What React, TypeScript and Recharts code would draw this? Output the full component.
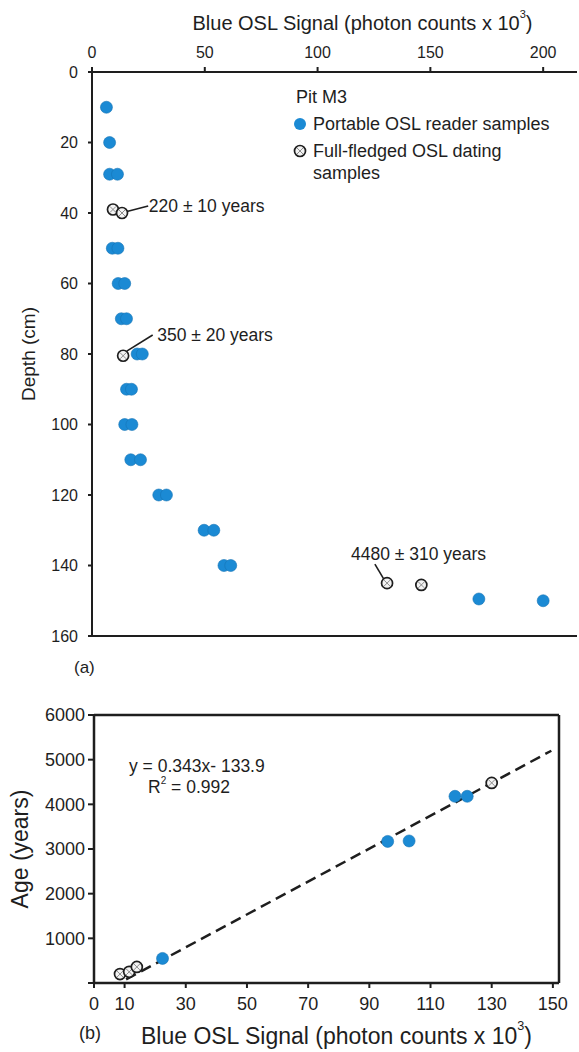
import { ScatterChart, Scatter, XAxis, YAxis, ReferenceLine, ReferenceDot, Legend, Label } from 'recharts';

const BLUE = '#1b8ad4';
const INK = '#1e1e1e';
const FONT = '"Liberation Sans", Arial, Helvetica, sans-serif';

// (a) Pit M3 depth profile, signal in photon counts x 10^3
const readerSignal = [6.4, 7.8, 7.8, 11.3, 9.0, 11.5, 11.6, 14.5, 13.0, 15.3, 20.0, 22.3, 15.3, 17.5, 14.5, 17.7, 17.2, 21.5, 29.6, 33.0, 49.7, 54.0, 58.5, 61.5, 171.5, 200];
const readerDepth = [10, 20, 29, 29, 50, 50, 60, 60, 70, 70, 80, 80, 90, 90, 100, 100, 110, 110, 120, 120, 130, 130, 140, 140, 149.5, 150];
const datingSignal = [9.3, 13.3, 13.8, 130.8, 146];
const datingDepth = [39, 40, 80.5, 145, 145.5];

const signalTicksTop = [0, 50, 100, 150, 200];
const depthTicks = [0, 20, 40, 60, 80, 100, 120, 140, 160];

// dated samples with their leader lines (data units)
const ageNotes = [
  { text: '220 \u00b1 10 years', from: { x: 15.5, y: 39.6 }, to: { x: 24.9, y: 38 }, at: { x: 25.2, y: 38 } },
  { text: '350 \u00b1 20 years', from: { x: 15.4, y: 79.2 }, to: { x: 26.9, y: 74.6 }, at: { x: 28.9, y: 74.6 } },
  { text: '4480 \u00b1 310 years', from: { x: 129.3, y: 143.8 }, to: { x: 125.4, y: 139.6 }, at: { x: 114.8, y: 136.7 } },
];

// (b) age vs. signal
const readerAgeSignal = [22.4, 96, 103, 118, 122];
const readerAge = [550, 3170, 3180, 4180, 4180];
const datingAgeSignal = [8.5, 11.5, 14, 130];
const datingAge = [200, 250, 360, 4480];
const fitSignal = [10.5, 149.5];
const fitAge = [80, 5200];

const signalTicksBottom = [0, 10, 30, 50, 70, 90, 110, 130, 150];
const ageTicks = [0, 1000, 2000, 3000, 4000, 5000, 6000];

const depthReader = readerSignal.map((s, i) => ({ signal: s, depth: readerDepth[i] }));
const depthDating = datingSignal.map((s, i) => ({ signal: s, depth: datingDepth[i] }));
const ageReader = readerAgeSignal.map((s, i) => ({ signal: s, age: readerAge[i] }));
const ageDating = datingAgeSignal.map((s, i) => ({ signal: s, age: datingAge[i] }));
const ageFit = fitSignal.map((s, i) => ({ signal: s, age: fitAge[i] }));

const ReaderDot = (props: any) => (
  <circle cx={props.cx} cy={props.cy} r={6} fill={BLUE} stroke="#1574b5" strokeWidth={0.6} />
);

const DatingDot = (props: any) => {
  const { cx, cy } = props;
  return (
    <g>
      <circle cx={cx} cy={cy} r={5.5} fill="#f3f3f3" stroke={INK} strokeWidth={1.7} />
      <path d={`M${cx - 3},${cy - 3}L${cx + 3},${cy + 3}M${cx - 3},${cy + 3}L${cx + 3},${cy - 3}`} stroke="#8c8c8c" strokeWidth={1} />
    </g>
  );
};

const NoDot = () => <g />;

const SignalTitle = ({ viewBox, dx, dy, size }: any) => {
  const { x, y, width } = viewBox;
  return (
    <text x={x + width / 2 + dx} y={y + dy} textAnchor="middle" dominantBaseline="central" fontFamily={FONT} fontSize={size} fill={INK}>
      Blue OSL Signal (photon counts x 10
      <tspan dy={-size * 0.45} fontSize={size * 0.55}>3</tspan>
      <tspan dy={size * 0.45}>)</tspan>
    </text>
  );
};

const SideTitle = ({ viewBox, text, cx, size }: any) => {
  const cy = viewBox.y + viewBox.height / 2;
  return (
    <text x={cx} y={cy} transform={`rotate(-90 ${cx} ${cy})`} textAnchor="middle" dominantBaseline="central" fontFamily={FONT} fontSize={size} fill={INK}>
      {text}
    </text>
  );
};

const KeyPanel = () => (
  <div style={{ fontFamily: FONT, color: INK, fontSize: 18, lineHeight: '22px' }}>
    <div style={{ fontSize: 18, marginLeft: 4 }}>Pit M3</div>
    <div style={{ display: 'flex', marginTop: 5 }}>
      <svg width={16} height={22}>
        <circle cx={8} cy={11} r={6} fill={BLUE} />
      </svg>
      <span style={{ marginLeft: 5 }}>Portable OSL reader samples</span>
    </div>
    <div style={{ display: 'flex', marginTop: 5 }}>
      <svg width={16} height={22}>
        <circle cx={8} cy={11} r={5.5} fill="#f3f3f3" stroke={INK} strokeWidth={1.7} />
        <path d="M5,8L11,14M5,14L11,8" stroke="#8c8c8c" strokeWidth={1} />
      </svg>
      <span style={{ marginLeft: 5 }}>
        Full-fledged OSL dating
        <br />
        samples
      </span>
    </div>
  </div>
);

const tickStyle = (size: number) => ({ fontFamily: FONT, fontSize: size, fill: INK });
const axisStroke = { stroke: INK, strokeWidth: 2 };
const frameStroke = { stroke: INK, strokeWidth: 2.5 };

export default function App() {
  return (
    <div style={{ position: 'absolute', left: 0, top: 0, width: 579, height: 1052, background: '#fff' }}>
      <ScatterChart width={579} height={680} margin={{ top: 0, right: 2, bottom: 44, left: 0 }}>
        <XAxis
          xAxisId="top"
          orientation="top"
          type="number"
          dataKey="signal"
          domain={[0, 215]}
          ticks={signalTicksTop}
          height={72}
          tickSize={5}
          tickMargin={9}
          tick={tickStyle(16)}
          axisLine={axisStroke}
          tickLine={axisStroke}
        >
          <Label content={<SignalTitle dx={28} dy={23} size={20} />} />
        </XAxis>
        <YAxis
          type="number"
          dataKey="depth"
          domain={[0, 160]}
          reversed
          ticks={depthTicks}
          width={92}
          tickSize={4}
          tickMargin={10}
          tick={tickStyle(16)}
          axisLine={axisStroke}
          tickLine={axisStroke}
        >
          <Label content={<SideTitle text="Depth (cm)" cx={28} size={19} />} />
        </YAxis>
        {/* top and bottom borders of the profile */}
        <ReferenceLine xAxisId="top" y={0} {...axisStroke} />
        <ReferenceLine xAxisId="top" y={160} {...axisStroke} />
        {ageNotes.map((n) => (
          <ReferenceLine key={n.text} xAxisId="top" segment={[n.from, n.to]} stroke={INK} strokeWidth={1.6} />
        ))}
        {ageNotes.map((n) => (
          <ReferenceDot
            key={`${n.text}-t`}
            xAxisId="top"
            x={n.at.x}
            y={n.at.y}
            r={0}
            stroke="none"
            fill="none"
            label={{ value: n.text, position: 'right', offset: 0, fontFamily: FONT, fontSize: 17.5, fill: INK }}
          />
        ))}
        <Scatter xAxisId="top" data={depthReader} shape={ReaderDot} isAnimationActive={false} />
        <Scatter xAxisId="top" data={depthDating} shape={DatingDot} isAnimationActive={false} />
        <Legend
          layout="vertical"
          align="center"
          verticalAlign="middle"
          content={<KeyPanel />}
          wrapperStyle={{ left: 292, top: 86, width: 284 }}
        />
        <text x={74} y={667} dominantBaseline="central" fontFamily={FONT} fontSize={17} fill={INK}>
          (a)
        </text>
      </ScatterChart>

      <div style={{ position: 'absolute', left: 0, top: 690 }}>
        <ScatterChart width={579} height={362} margin={{ top: 25, right: 20, bottom: 0, left: 0 }}>
          <XAxis
            type="number"
            dataKey="signal"
            domain={[0, 152]}
            ticks={signalTicksBottom}
            height={69}
            tickSize={5}
            tickMargin={9}
            tick={tickStyle(18)}
            axisLine={frameStroke}
            tickLine={axisStroke}
          >
            <Label content={<SignalTitle dx={10} dy={53} size={23} />} />
          </XAxis>
          <YAxis
            type="number"
            dataKey="age"
            domain={[0, 6000]}
            ticks={ageTicks}
            tickFormatter={(v: number) => (v === 0 ? '' : String(v))}
            width={94}
            tickSize={6}
            tickMargin={3}
            tick={tickStyle(18)}
            axisLine={frameStroke}
            tickLine={axisStroke}
          >
            <Label content={<SideTitle text="Age (years)" cx={20} size={23} />} />
          </YAxis>
          {/* closing frame */}
          <ReferenceLine y={6000} {...frameStroke} />
          <ReferenceLine x={152} {...frameStroke} />
          <Scatter
            data={ageFit}
            shape={NoDot}
            line={{ stroke: INK, strokeWidth: 2.5, strokeDasharray: '11 6' }}
            isAnimationActive={false}
          />
          <Scatter data={ageDating} shape={DatingDot} isAnimationActive={false} />
          <Scatter data={ageReader} shape={ReaderDot} isAnimationActive={false} />
          <text x={129} y={76} dominantBaseline="central" fontFamily={FONT} fontSize={17.5} fill={INK}>
            y = 0.343x- 133.9
          </text>
          <text x={148} y={97} dominantBaseline="central" fontFamily={FONT} fontSize={17.5} fill={INK}>
            R<tspan dy={-7} fontSize={10}>2</tspan>
            <tspan dy={7}> = 0.992</tspan>
          </text>
          <text x={79} y={343} dominantBaseline="central" fontFamily={FONT} fontSize={18} fill={INK}>
            (b)
          </text>
        </ScatterChart>
      </div>
    </div>
  );
}
